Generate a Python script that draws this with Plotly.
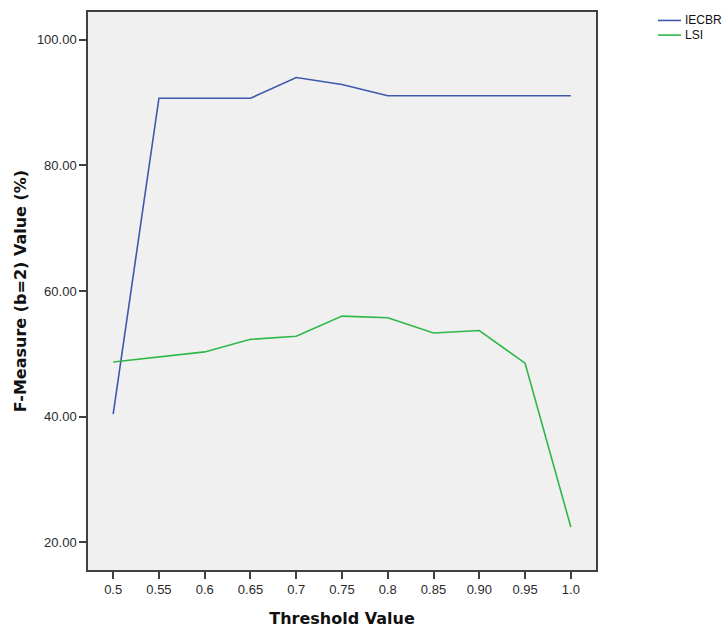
import plotly.graph_objects as go

# Threshold values (category labels on the x axis)
thresholds = ["0.5", "0.55", "0.6", "0.65", "0.7", "0.75", "0.8", "0.85", "0.90", "0.95", "1.0"]

# F-Measure (b=2) values in percent
iecbr = [40.4, 90.7, 90.7, 90.7, 94.0, 92.9, 91.1, 91.1, 91.1, 91.1, 91.1]
lsi = [48.7, 49.5, 50.3, 52.3, 52.8, 56.0, 55.75, 53.3, 53.7, 48.5, 22.4]

y_ticks = [20, 40, 60, 80, 100]

series = [("IECBR", iecbr, "#3E58AC"), ("LSI", lsi, "#2EB848")]

W, H = 727, 635
L, R, T, B = 88, 131, 10, 64
PW, PH = W - L - R, H - T - B


def px_x(px):
    return (px - L) / PW


def px_y(py):
    return (H - B - py) / PH


fig = go.Figure()
for name, vals, color in series:
    fig.add_trace(go.Scatter(x=thresholds, y=vals, mode="lines", name=name,
                             line=dict(color=color, width=1.6), showlegend=False))

# Legend drawn at the top right of the page
for i, (name, _, color) in enumerate(series):
    yy = px_y(18.5 + i * 14.7)
    fig.add_shape(type="line", xref="paper", yref="paper",
                  x0=px_x(658), x1=px_x(681), y0=yy, y1=yy,
                  line=dict(color=color, width=1.6))
    fig.add_annotation(xref="paper", yref="paper", x=px_x(683), y=yy,
                       xanchor="left", yanchor="middle", showarrow=False,
                       text=name,
                       font=dict(family="Liberation Sans, Arial, sans-serif", size=12, color="#111"))

axis_font = dict(family="Liberation Sans, Arial, sans-serif", size=13, color="#2a2a2a")
title_font = dict(family="DejaVu Sans, sans-serif", size=16, color="#111111")

fig.update_layout(
    width=W, height=H,
    margin=dict(l=L, r=R, t=T, b=B),
    paper_bgcolor="white",
    plot_bgcolor="#F0F0F0",
    showlegend=False,
    xaxis=dict(
        type="category",
        categoryorder="array", categoryarray=thresholds,
        range=[-0.55, 10.55],
        showgrid=False, zeroline=False,
        showline=True, mirror=True, linecolor="#404040", linewidth=1.5,
        ticks="outside", ticklen=7, tickcolor="#404040", tickwidth=1.5,
        tickfont=axis_font,
        title=dict(text="<b>Threshold Value</b>", font=title_font, standoff=16),
    ),
    yaxis=dict(
        range=[15.56, 104.44],
        tickvals=y_ticks,
        ticktext=[f"{v:.2f}" for v in y_ticks],
        showgrid=False, zeroline=False,
        showline=True, mirror=True, linecolor="#404040", linewidth=1.5,
        ticks="outside", ticklen=7, tickcolor="#404040", tickwidth=1.5,
        tickfont=axis_font,
        title=dict(text="<b>F-Measure (b=2) Value (%)</b>", font=title_font, standoff=6),
    ),
)

fig.write_html("out.html")
